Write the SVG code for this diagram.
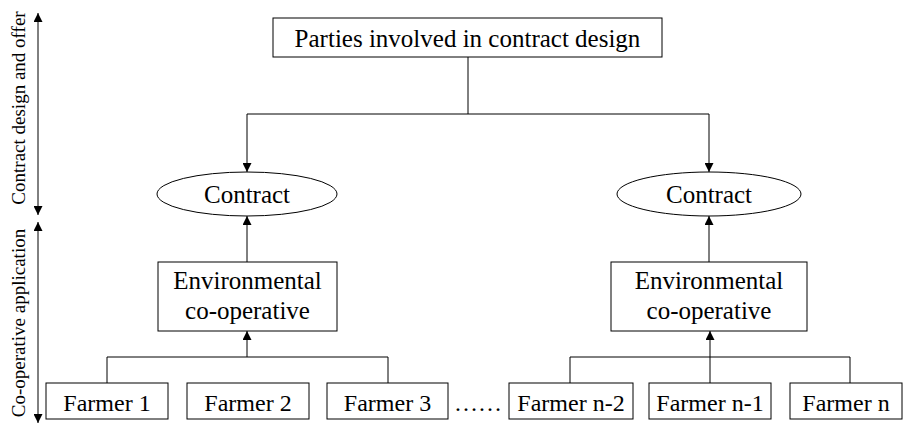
<svg xmlns="http://www.w3.org/2000/svg" width="903" height="423" viewBox="0 0 903 423">
<style>
.box{fill:#fff;stroke:#000;stroke-width:1}
.t{font-family:"Liberation Serif","Times New Roman",serif;font-size:25px;fill:#000;text-anchor:middle}
.f{font-family:"Liberation Serif","Times New Roman",serif;font-size:24px;fill:#000;text-anchor:middle}
.s{font-family:"Liberation Serif","Times New Roman",serif;font-size:19px;fill:#000;text-anchor:middle}
.c{fill:none;stroke:#000;stroke-width:1}
</style>
<defs>
<marker id="ah" viewBox="0 0 10 10" refX="10" refY="5" markerWidth="9" markerHeight="9" markerUnits="userSpaceOnUse" orient="auto-start-reverse">
<path d="M0,0 L10,5 L0,10 Z" fill="#000"/>
</marker>
</defs>
<rect width="903" height="423" fill="#fff"/>
<g id="connectors">
<path class="c" d="M468,57 V114 M247,114 H709"/>
<path class="c" d="M247,114 V172" marker-end="url(#ah)"/>
<path class="c" d="M709,114 V172" marker-end="url(#ah)"/>
<path class="c" d="M247,262 V216" marker-end="url(#ah)"/>
<path class="c" d="M709,262 V216" marker-end="url(#ah)"/>
<path class="c" d="M107,383 V357 H388 V383"/>
<path class="c" d="M247,357 V331" marker-end="url(#ah)"/>
<path class="c" d="M570,383 V357 H850 V383"/>
<path class="c" d="M710,383 V331" marker-end="url(#ah)"/>
<path class="c" d="M38,13 V215" marker-start="url(#ah)" marker-end="url(#ah)"/>
<path class="c" d="M38,222 V423" marker-start="url(#ah)" marker-end="url(#ah)"/>
</g>
<g id="phase-labels">
<text class="s" transform="translate(25,108) rotate(-90)">Contract design and offer</text>
<text class="s" transform="translate(25,323) rotate(-90)">Co-operative application</text>
</g>
<g id="parties">
<rect class="box" x="273" y="18" width="389" height="39"/>
<text class="t" x="467.5" y="47">Parties involved in contract design</text>
</g>
<g id="contract-1">
<ellipse class="box" cx="247" cy="194" rx="90" ry="22"/>
<text class="t" x="247" y="203">Contract</text>
</g>
<g id="contract-2">
<ellipse class="box" cx="709" cy="194" rx="92" ry="22"/>
<text class="t" x="709" y="203">Contract</text>
</g>
<g id="coop-1">
<rect class="box" x="158" y="262" width="179" height="69"/>
<text class="t" x="247.5" y="289">Environmental</text>
<text class="t" x="247.5" y="319">co-operative</text>
</g>
<g id="coop-2">
<rect class="box" x="611" y="262" width="196" height="69"/>
<text class="t" x="709" y="289">Environmental</text>
<text class="t" x="709" y="319">co-operative</text>
</g>
<g id="farmer-1"><rect class="box" x="46" y="383" width="122" height="36"/><text class="f" x="107" y="411">Farmer 1</text></g>
<g id="farmer-2"><rect class="box" x="187" y="383" width="122" height="36"/><text class="f" x="248" y="411">Farmer 2</text></g>
<g id="farmer-3"><rect class="box" x="327" y="383" width="121" height="36"/><text class="f" x="387.5" y="411">Farmer 3</text></g>
<g id="ellipsis"><text class="f" x="478" y="411">……</text></g>
<g id="farmer-n-2"><rect class="box" x="509" y="383" width="124" height="36"/><text class="f" x="571" y="411">Farmer n-2</text></g>
<g id="farmer-n-1"><rect class="box" x="649" y="383" width="122" height="36"/><text class="f" x="710" y="411">Farmer n-1</text></g>
<g id="farmer-n"><rect class="box" x="790" y="383" width="112" height="36"/><text class="f" x="846" y="411">Farmer n</text></g>
</svg>
